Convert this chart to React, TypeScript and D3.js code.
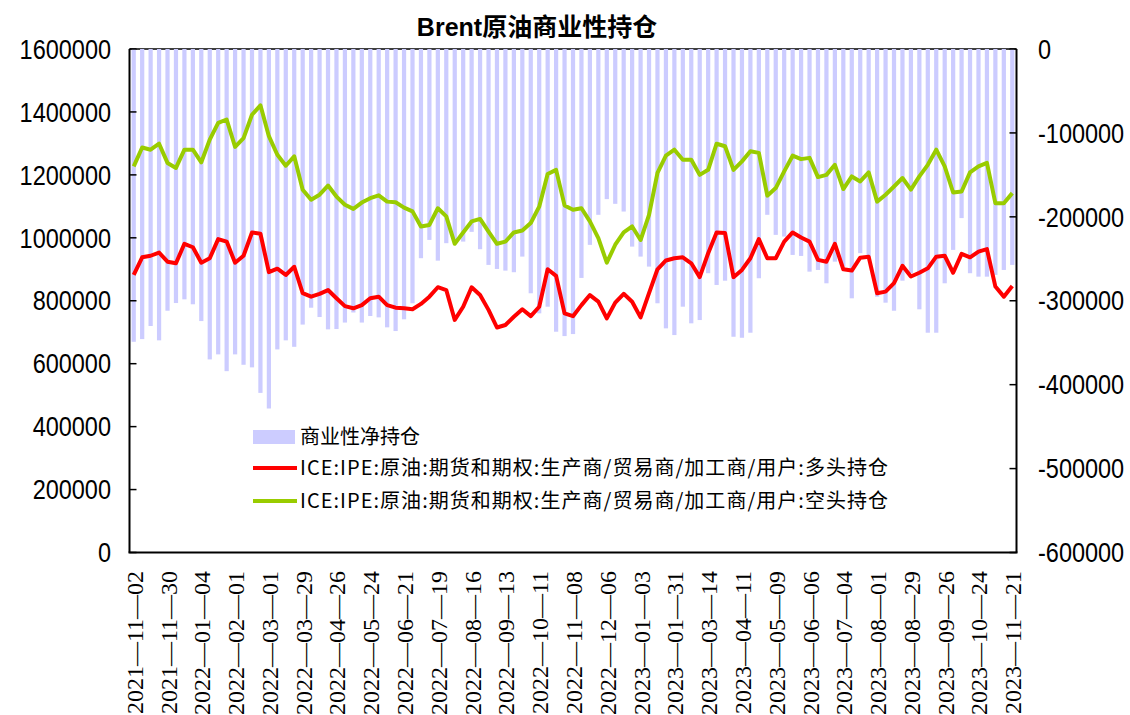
import * as d3 from "d3";

// tick labels, one every 4 weekly reports
const TICK_LABELS = [
  "2021-11-02", "2021-11-30", "2022-01-04", "2022-02-01", "2022-03-01", "2022-03-29",
  "2022-04-26", "2022-05-24", "2022-06-21", "2022-07-19", "2022-08-16", "2022-09-13",
  "2022-10-11", "2022-11-08", "2022-12-06", "2023-01-03", "2023-01-31", "2023-03-14",
  "2023-04-11", "2023-05-09", "2023-06-06", "2023-07-04", "2023-08-01", "2023-08-29",
  "2023-09-26", "2023-10-24", "2023-11-21",
];
const TICK_STEP = 4;

// 商业性净持仓 (right axis)
const netPosition = [
  -348900, -345700, -330100, -347200, -311900, -302700, -298300, -304200, -324200, -369900,
  -363900, -383900, -363900, -376300, -379400, -409800, -428400, -358000, -347200, -354900,
  -328400, -308300, -319400, -334100, -333700, -326000, -314000, -326000, -318200, -319800,
  -331700, -336100, -322100, -303000, -249300, -227500, -252200, -231400, -229800, -229500,
  -217900, -238600, -257300, -262100, -264100, -266000, -247400, -291100, -315000, -307100,
  -336900, -342100, -339700, -272800, -233400, -197600, -178900, -184500, -193700, -235500,
  -247400, -259300, -303000, -332900, -340900, -307100, -326900, -323000, -267200, -281200,
  -276100, -342900, -344100, -338100, -273200, -197600, -221500, -223500, -245400, -246600,
  -265300, -263300, -279200, -253400, -259300, -297100, -243300, -247400, -295200, -302300,
  -311900, -276100, -267200, -310200, -338100, -338100, -279200, -239400, -201500, -267200,
  -271300, -271300, -269200, -263300, -257300,
];

// 多头持仓 (left axis)
const longPosition = [
  882000, 938000, 943000, 953000, 924000, 919000, 981000, 970000, 921000, 935000,
  996000, 988000, 921000, 943000, 1017000, 1013000, 891000, 902000, 882000, 908000,
  824000, 813000, 822000, 834000, 808000, 783000, 776000, 786000, 808000, 813000,
  786000, 778000, 776000, 773000, 790000, 813000, 843000, 834000, 739000, 781000,
  843000, 818000, 771000, 715000, 723000, 749000, 773000, 751000, 781000, 900000,
  879000, 760000, 751000, 786000, 818000, 797000, 744000, 794000, 822000, 797000,
  747000, 824000, 900000, 928000, 935000, 938000, 919000, 875000, 951000, 1017000,
  1015000, 875000, 898000, 935000, 996000, 935000, 935000, 988000, 1017000, 1001000,
  988000, 930000, 924000, 981000, 900000, 896000, 937000, 940000, 824000, 829000,
  856000, 911000, 877000, 889000, 903000, 940000, 943000, 889000, 949000, 938000,
  956000, 964000, 845000, 813000, 847000,
];

// 空头持仓 (left axis)
const shortPosition = [
  1227000, 1287000, 1280000, 1299000, 1238000, 1222000, 1280000, 1280000, 1240000, 1312000,
  1365000, 1376000, 1289000, 1317000, 1391000, 1421000, 1323000, 1264000, 1229000, 1259000,
  1153000, 1121000, 1137000, 1166000, 1131000, 1105000, 1092000, 1112000, 1126000, 1135000,
  1115000, 1113000, 1096000, 1084000, 1036000, 1041000, 1094000, 1068000, 981000, 1017000,
  1052000, 1060000, 1020000, 981000, 988000, 1017000, 1023000, 1047000, 1099000, 1203000,
  1216000, 1103000, 1089000, 1094000, 1052000, 999000, 921000, 978000, 1017000, 1036000,
  993000, 1073000, 1206000, 1261000, 1280000, 1248000, 1248000, 1200000, 1216000, 1299000,
  1291000, 1216000, 1243000, 1275000, 1270000, 1134000, 1158000, 1211000, 1261000, 1250000,
  1254000, 1193000, 1200000, 1232000, 1155000, 1195000, 1179000, 1208000, 1115000, 1137000,
  1163000, 1190000, 1153000, 1195000, 1232000, 1280000, 1227000, 1144000, 1147000, 1208000,
  1227000, 1238000, 1110000, 1110000, 1142000,
];

const LEFT_TICKS = [0, 200000, 400000, 600000, 800000, 1000000, 1200000, 1400000, 1600000];
const RIGHT_TICKS = [0, -100000, -200000, -300000, -400000, -500000, -600000];

const TITLE = "Brent原油商业性持仓";
const LEGEND_BAR = "商业性净持仓";
const LEGEND_LONG = "ICE:IPE:原油:期货和期权:生产商/贸易商/加工商/用户:多头持仓";
const LEGEND_SHORT = "ICE:IPE:原油:期货和期权:生产商/贸易商/加工商/用户:空头持仓";

const W = 1130;
const H = 715;
const plot = { left: 129.5, right: 1016.5, top: 49, bottom: 552.5 };

const BAR_COLOR = "#ccccff";
const LONG_COLOR = "#ff0000";
const SHORT_COLOR = "#99cc00";

export default function App() {
  const idx = d3.range(netPosition.length);

  const x = d3
    .scaleBand<number>()
    .domain(idx)
    .range([plot.left, plot.right])
    .paddingInner(0.5)
    .paddingOuter(0.25);
  const cx = (i: number) => (x(i) as number) + x.bandwidth() / 2;

  const yLeft = d3.scaleLinear().domain([0, 1600000]).range([plot.bottom, plot.top]);
  const yRight = d3.scaleLinear().domain([-600000, 0]).range([plot.bottom, plot.top]);

  const line = d3
    .line<number>()
    .x((_, i) => cx(i))
    .y((d) => yLeft(d));

  const sans = "'Liberation Sans', Arial, sans-serif";
  const cjk = "'Noto Sans CJK SC', sans-serif";

  return (
    <svg
      width={W}
      height={H}
      style={{ position: "absolute", left: 0, top: 0, background: "#fff" }}
    >
      {/* title */}
      <text
        x={537}
        y={36}
        textAnchor="middle"
        fontFamily={`'Liberation Sans', 'Noto Sans CJK SC', sans-serif`}
        fontWeight="bold"
        fontSize={25}
      >
        {TITLE}
      </text>

      {/* top frame line, bars cover it */}
      <line x1={plot.left} x2={plot.right} y1={plot.top} y2={plot.top} stroke="#000" strokeWidth={1.5} />

      {/* bars hanging from right-axis zero */}
      <g>
        {netPosition.map((v, i) => (
          <rect
            key={i}
            x={x(i)}
            y={yRight(0)}
            width={x.bandwidth()}
            height={yRight(v) - yRight(0)}
            fill={BAR_COLOR}
          />
        ))}
      </g>

      {/* lines */}
      <path d={line(shortPosition) || ""} fill="none" stroke={SHORT_COLOR} strokeWidth={4} strokeLinejoin="round" />
      <path d={line(longPosition) || ""} fill="none" stroke={LONG_COLOR} strokeWidth={4} strokeLinejoin="round" />

      {/* frame */}
      <line x1={plot.left} x2={plot.left} y1={plot.top} y2={plot.bottom} stroke="#000" strokeWidth={2} />
      <line x1={plot.right} x2={plot.right} y1={plot.top} y2={plot.bottom} stroke="#000" strokeWidth={2} />
      <line x1={plot.left - 1} x2={plot.right + 1} y1={plot.bottom} y2={plot.bottom} stroke="#000" strokeWidth={2} />

      {/* left axis */}
      <g>
        {LEFT_TICKS.map((t) => (
          <g key={t}>
            <line x1={plot.left} x2={plot.left + 7} y1={yLeft(t)} y2={yLeft(t)} stroke="#000" strokeWidth={1.5} />
            <text
              transform={`translate(111,${yLeft(t)}) scale(0.87,1)`}
              textAnchor="end"
              dy="0.36em"
              fontFamily={sans}
              fontSize={27}
              fill="#000"
            >
              {t}
            </text>
          </g>
        ))}
      </g>

      {/* right axis */}
      <g>
        {RIGHT_TICKS.map((t) => (
          <g key={t}>
            <line x1={plot.right - 7} x2={plot.right} y1={yRight(t)} y2={yRight(t)} stroke="#000" strokeWidth={1.5} />
            <text
              transform={`translate(1038,${yRight(t)}) scale(0.87,1)`}
              textAnchor="start"
              dy="0.36em"
              fontFamily={sans}
              fontSize={27}
              fill="#000"
            >
              {t}
            </text>
          </g>
        ))}
      </g>

      {/* x labels */}
      <g>
        {TICK_LABELS.map((lab, k) => (
          <text
            key={lab}
            transform={`translate(${cx(k * TICK_STEP) + 9},571) rotate(-90)`}
            textAnchor="end"
            fontFamily="'Liberation Serif', serif"
            fontSize={24}
            fill="#000"
          >
            {lab.replace(/-/g, "—")}
          </text>
        ))}
      </g>

      {/* legend */}
      <g fontFamily={cjk} fontSize={20} fill="#000">
        <rect x={253} y={430} width={42} height={14} fill={BAR_COLOR} />
        <text x={300} y={444}>{LEGEND_BAR}</text>
        <line x1={253} x2={297} y1={468} y2={468} stroke={LONG_COLOR} strokeWidth={4} />
        <text x={300} y={475} textLength={588} lengthAdjust="spacing">{LEGEND_LONG}</text>
        <line x1={253} x2={297} y1={501} y2={501} stroke={SHORT_COLOR} strokeWidth={4} />
        <text x={300} y={508} textLength={588} lengthAdjust="spacing">{LEGEND_SHORT}</text>
      </g>
    </svg>
  );
}
